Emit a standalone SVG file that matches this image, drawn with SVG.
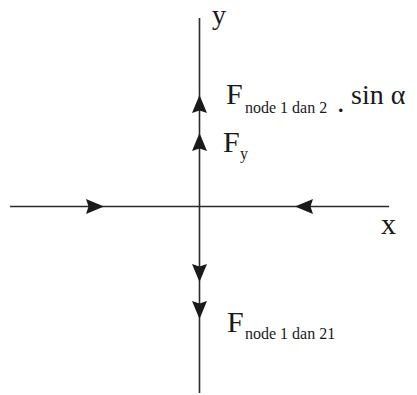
<svg xmlns="http://www.w3.org/2000/svg" width="417" height="395" viewBox="0 0 417 395">
<style>
.ax{stroke:#2b2b2b;stroke-width:1.6;fill:none}
.ah{fill:#1a1a1a}
.t{font-family:"Liberation Serif","Times New Roman",serif;fill:#1a1a1a}
.big{font-size:30px}
.sub{font-size:16px}
</style>
<defs>
<path id="head" d="M0,0 L7.5,18 L0,15.5 L-7.5,18 Z"/>
</defs>
<rect width="417" height="395" fill="#ffffff"/>
<g id="connectors">
<line class="ax" x1="199.5" y1="18" x2="199.5" y2="393"/>
<line class="ax" x1="10" y1="206.5" x2="389" y2="206.5"/>
<use href="#head" class="ah" transform="translate(199.5,95)"/>
<use href="#head" class="ah" transform="translate(199.5,133)"/>
<use href="#head" class="ah" transform="translate(199.5,282) rotate(180)"/>
<use href="#head" class="ah" transform="translate(199.5,319) rotate(180)"/>
<use href="#head" class="ah" transform="translate(104,206.5) rotate(90)"/>
<use href="#head" class="ah" transform="translate(295,206.5) rotate(-90)"/>
</g>
<g id="axis-y"><text class="t" x="212" y="24" font-size="28">y</text></g>
<g id="axis-x"><text class="t big" x="381" y="234">x</text></g>
<g id="force-sin">
<text class="t big" x="226" y="104">F</text>
<text class="t sub" x="245" y="113">node 1 dan 2</text>
<text class="t big" x="337" y="112">.</text>
<text class="t" x="351" y="104" font-size="28">sin α</text>
</g>
<g id="force-fy">
<text class="t big" x="223" y="152">F</text>
<text class="t sub" x="240" y="159">y</text>
</g>
<g id="force-down">
<text class="t big" x="227" y="332">F</text>
<text class="t sub" x="245" y="339">node 1 dan 21</text>
</g>
</svg>
